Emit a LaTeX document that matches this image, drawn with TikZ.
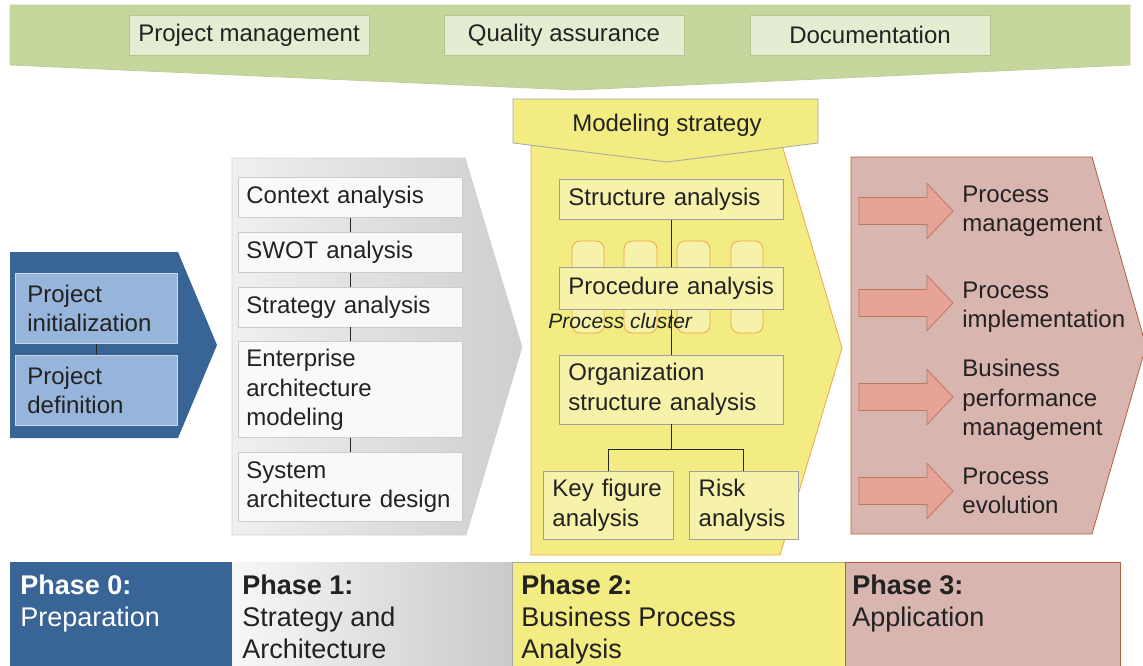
\documentclass[tikz,border=0pt]{standalone}
\usepackage{fontspec}
\setmainfont{Liberation Sans}
\usepackage{xcolor}
\usetikzlibrary{positioning}

\definecolor{bannergreen}{HTML}{C5D79C}
\definecolor{boxgreen}{HTML}{E4EDD2}
\definecolor{phaseblue}{HTML}{386595}
\definecolor{boxblue}{HTML}{97B4DB}
\definecolor{phaseyellow}{HTML}{F2EC82}
\definecolor{boxyellow}{HTML}{F6F2A9}
\definecolor{edgeorange}{HTML}{F3A545}
\definecolor{phasepink}{HTML}{D8B5AF}
\definecolor{edgebrown}{HTML}{B4603C}
\definecolor{arrowpink}{HTML}{E6A398}
\definecolor{inkgray}{HTML}{222222}

\begin{document}
\begin{tikzpicture}[x=0.5pt, y=-0.5pt, font=\fontsize{12}{14.75}\selectfont, text=inkgray, node distance=7pt,
	topbox/.style={draw=bannergreen!80!gray, fill=boxgreen, minimum width=120pt, minimum height=20pt, inner sep=0pt},
	bluebox/.style={draw=boxblue!50!white, fill=boxblue, text width=69pt, inner xsep=6pt, minimum height=35pt, align=left},
	graybox/.style={draw=gray!40, fill=gray!5, text width=104pt, inner xsep=4pt, minimum height=20pt, align=left},
	yellowbox/.style={draw=gray!75, fill=boxyellow, text width=103pt, inner xsep=4.5pt, minimum height=20pt, align=left},
	cluster/.style={draw=edgeorange, fill=boxyellow, rounded corners=4pt},
	pointer/.style={draw=edgebrown!85, fill=arrowpink, line join=miter},
	outcome/.style={anchor=west, align=left, inner sep=0pt},
	phasetext/.style={anchor=north west, inner sep=0pt, align=left, font=\fontsize{13.5}{16}\selectfont},
	link/.style={draw=black!85, line width=0.5pt}]
	\useasboundingbox (0,0) rectangle (1143,665);

	\draw[draw=bannergreen!90!gray, fill=bannergreen] (10,5) -- (1130,5) -- (1130,65) -- (575,90) -- (10,65) -- cycle;
	\node[topbox] (pm) at (249,35) {Project management};
	\node[topbox] (qa) at (564,35) {Quality assurance};
	\node[topbox] (doc) at (870,35) {Documentation};

	\fill[phaseblue] (10,252) -- (178,252) -- (217,345) -- (178,438) -- (10,438) -- cycle;
	\draw[draw=gray!35, left color=gray!12, right color=gray!38] (232,158) -- (465,158) -- (522,347) -- (466,535) -- (232,535) -- cycle;
	\draw[draw=edgeorange, fill=phaseyellow] (531,145) -- (782,145) -- (842,348) -- (780,555) -- (531,555) -- cycle;
	\draw[draw=edgebrown, fill=phasepink] (851,157) -- (1092,157) -- (1146,346) -- (1092,534) -- (851,534) -- cycle;

	\node[bluebox, anchor=north west] (init) at (15,273) {Project\\initialization};
	\node[bluebox] (define) [below = 5.5pt of init] {Project\\definition};
	\draw[link] (init) -- (define);

	\node[graybox, anchor=north west] (context) at (238,177) {Context analysis};
	\node[graybox] (swot) [below = of context] {SWOT analysis};
	\node[graybox] (strategy) [below = of swot] {Strategy analysis};
	\node[graybox, minimum height=48pt] (enterprise) [below = of strategy] {Enterprise\\architecture\\modeling};
	\node[graybox, minimum height=34.5pt] (system) [below = of enterprise] {System\\architecture design};
	\draw[link] (context) -- (swot);
	\draw[link] (swot) -- (strategy);
	\draw[link] (strategy) -- (enterprise);
	\draw[link] (enterprise) -- (system);

	\draw[draw=gray!70, fill=phaseyellow] (513,99) -- (818,99) -- (818,143) -- (667,162) -- (513,143) -- cycle;
	\node (modeling) at (667,125) {Modeling strategy};

	\draw[cluster] (572,241) rectangle (604,333);
	\draw[cluster] (624,241) rectangle (657,333);
	\draw[cluster] (677,241) rectangle (710,333);
	\draw[cluster] (731,241) rectangle (763,333);
	\node[anchor=west, inner sep=0pt, font=\fontsize{10.5}{12}\selectfont\itshape] (clusterlabel) at (548,321) {Process cluster};

	\node[yellowbox, anchor=north west] (structure) at (559,179) {Structure analysis};
	\node[yellowbox, minimum height=21pt] (procedure) [below = 23.5pt of structure] {Procedure analysis};
	\node[yellowbox, minimum height=34.5pt] (organization) [below = 22.5pt of procedure] {Organization\\structure analysis};
	\node[yellowbox, text width=56pt, minimum height=34pt, anchor=north west] (keyfig) at (543,471) {Key figure\\analysis};
	\node[yellowbox, text width=45pt, inner xsep=4.75pt, minimum height=34pt] (risk) [right = 7.5pt of keyfig] {Risk\\analysis};
	\draw[link] (structure) -- (procedure);
	\draw[link] (procedure) -- (organization);
	\draw[link] (organization.south) -- ++(0,25) -| (keyfig.north);
	\draw[link] (organization.south) ++(0,25) -| (risk.north);

	\draw[pointer] (859,197.5) -- ++(68,0) -- ++(0,-14) -- ++(26,27.5) -- ++(-26,27.5) -- ++(0,-14) -- ++(-68,0) -- cycle;
	\draw[pointer] (859,289.5) -- ++(68,0) -- ++(0,-14) -- ++(26,27.5) -- ++(-26,27.5) -- ++(0,-14) -- ++(-68,0) -- cycle;
	\draw[pointer] (859,383.5) -- ++(68,0) -- ++(0,-14) -- ++(26,27.5) -- ++(-26,27.5) -- ++(0,-14) -- ++(-68,0) -- cycle;
	\draw[pointer] (859,477.5) -- ++(68,0) -- ++(0,-14) -- ++(26,27.5) -- ++(-26,27.5) -- ++(0,-14) -- ++(-68,0) -- cycle;
	\node[outcome] (procmgmt) at (962,211) {Process\\management};
	\node[outcome] (procimpl) at (962,307) {Process\\implementation};
	\node[outcome] (bpm) at (962,400) {Business\\performance\\management};
	\node[outcome] (procevol) at (962,491) {Process\\evolution};

	\fill[phaseblue] (10,562) rectangle (232,680);
	\path[left color=gray!6, right color=gray!42] (232,562) rectangle (512,680);
	\draw[draw=gray!70, fill=phaseyellow] (512,562) rectangle (845,680);
	\draw[draw=edgebrown, fill=phasepink] (845,562) rectangle (1120,680);
	\node[phasetext, text=white] (phase0) at (20,575) {\textbf{Phase 0:}\\Preparation};
	\node[phasetext] (phase1) at (242,575) {\textbf{Phase 1:}\\Strategy and\\Architecture};
	\node[phasetext] (phase2) at (521,575) {\textbf{Phase 2:}\\Business Process\\Analysis};
	\node[phasetext] (phase3) at (852,575) {\textbf{Phase 3:}\\Application};
\end{tikzpicture}
\end{document}
